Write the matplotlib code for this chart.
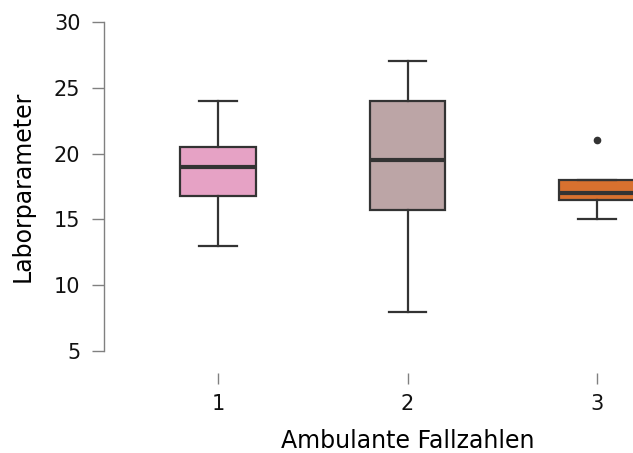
import matplotlib
matplotlib.use("Agg")
import matplotlib.pyplot as plt

# group labels and box statistics
groups = ["1", "2", "3"]
lower_whisker = [13, 8, 15]
q1 = [16.75, 15.75, 16.5]
median = [19, 19.5, 17]
q3 = [20.5, 24, 18]
upper_whisker = [24, 27, 18]
outliers = [[], [], [21]]
box_colors = ["#E6A2C5", "#BCA5A6", "#D8712F"]

plt.rcParams["font.family"] = "DejaVu Sans"

fig = plt.figure(figsize=(6.33, 4.53), dpi=100)
ax = fig.add_axes([104 / 633, 1 - 351 / 453, 529 / 633, 329 / 453])

stats = []
for i, g in enumerate(groups):
    stats.append({
        "label": g,
        "whislo": lower_whisker[i],
        "q1": q1[i],
        "med": median[i],
        "q3": q3[i],
        "whishi": upper_whisker[i],
        "fliers": outliers[i],
    })

edge = "#333333"
bp = ax.bxp(stats, positions=[1, 2, 3], widths=0.4, capwidths=0.2,
            patch_artist=True, showfliers=True,
            boxprops=dict(edgecolor=edge, linewidth=1.6),
            medianprops=dict(color=edge, linewidth=3),
            whiskerprops=dict(color=edge, linewidth=1.6),
            capprops=dict(color=edge, linewidth=1.6),
            flierprops=dict(marker="o", markersize=4.5,
                            markerfacecolor=edge, markeredgecolor=edge))
for patch, c in zip(bp["boxes"], box_colors):
    patch.set_facecolor(c)

xmin, xmax = 0.398, 3.19
ax.set_xlim(xmin, xmax)
ax.set_ylim(5, 30)
ax.set_yticks([5, 10, 15, 20, 25, 30])
ax.set_xticks([1, 2, 3])
ax.set_xticklabels(groups)

for s in ["top", "right"]:
    ax.spines[s].set_visible(False)
ax.spines["left"].set_color("#808080")
ax.spines["left"].set_linewidth(1.0)
ax.spines["left"].set_bounds(5, 30)
ax.spines["bottom"].set_position(("outward", 16))
ax.spines["bottom"].set_visible(False)

ax.tick_params(axis="y", length=9, width=1.0, color="#808080",
               labelsize=15, pad=8, labelcolor="#111111")
ax.tick_params(axis="x", length=8, width=1.0, color="#808080",
               labelsize=15, pad=7, labelcolor="#111111")

ax.set_ylabel("Laborparameter", fontsize=17, labelpad=14)
# the original plot was cropped on the right, its x label sits under group 2
ax.set_xlabel("Ambulante Fallzahlen", fontsize=17, labelpad=11,
              x=(2 - xmin) / (xmax - xmin))
ax.patch.set_alpha(0)

fig.savefig("out.png", dpi=100)
